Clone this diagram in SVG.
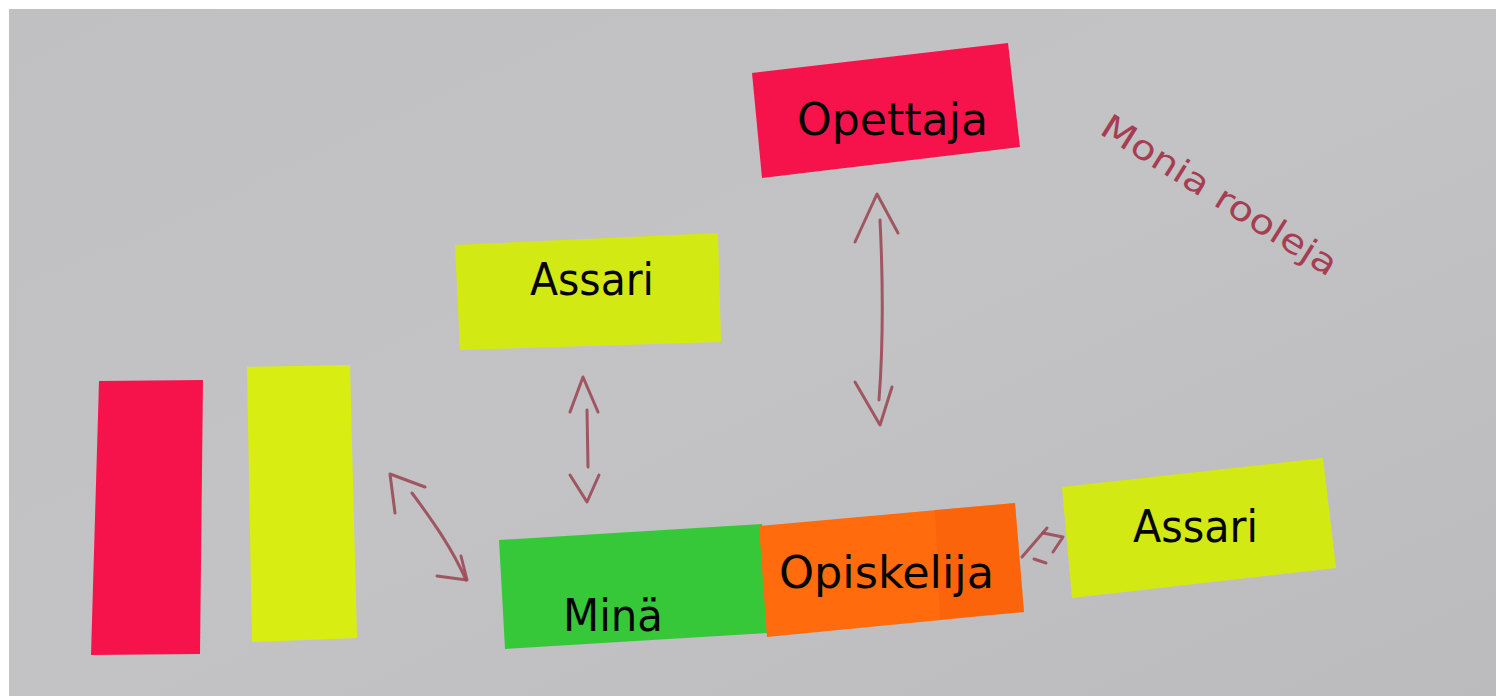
<svg xmlns="http://www.w3.org/2000/svg" width="1496" height="696" viewBox="0 0 1496 696">
<defs>
<linearGradient id="paper" x1="0" y1="0" x2="1" y2="1">
<stop offset="0" stop-color="#c0c0c2"/>
<stop offset="0.5" stop-color="#c3c3c5"/>
<stop offset="1" stop-color="#bbbbbd"/>
</linearGradient>
<style>
.lbl{font-family:"DejaVu Sans","Liberation Sans",sans-serif;font-size:45px;fill:#050505}
.pen{fill:none;stroke:#9c4a56;stroke-width:3;stroke-linecap:round;stroke-linejoin:round;opacity:0.9}
.pink{fill:#f6134c}
.yellow{fill:#d3e914}
.hand{font-family:"DejaVu Sans","Liberation Sans",sans-serif;font-size:34px;fill:#a53e52}
</style>
</defs>
<rect x="0" y="0" width="1496" height="696" fill="#ffffff"/>
<rect x="9" y="9" width="1487" height="687" fill="url(#paper)"/>

<g id="connectors">
<!-- Opettaja <-> Opiskelija -->
<path class="pen" d="M880,220 C883,280 883,347 879,400"/>
<path class="pen" d="M855,242 L877,194 L898,233"/>
<path class="pen" d="M855,382 L880,425 L892,387"/>
<!-- Assari (top) <-> Minä -->
<path class="pen" d="M587,410 L588,467"/>
<path class="pen" d="M570,412 L583,377 L598,412"/>
<path class="pen" d="M570,475 L587,502 L599,475"/>
<!-- left notes <-> Minä -->
<path class="pen" d="M412,493 C432,520 452,548 466,580"/>
<path class="pen" d="M395,513 L390,474 L425,487"/>
<path class="pen" d="M437,576 L467,580 L461,556"/>
<!-- Opiskelija <-> Assari (right) -->
<path class="pen" d="M1022,557 L1047,528"/>
<path class="pen" d="M1043,533 L1063,537 L1053,552"/>
<path class="pen" d="M1034,559 L1046,563"/>
</g>

<g id="note-left-red">
<polygon class="pink" points="99,381 203,380 200,654 91,655"/>
</g>
<g id="note-left-yellow">
<polygon fill="#d8ee12" points="247,367 350,365 357,638 252,642"/>
</g>

<g id="node-opettaja">
<polygon class="pink" points="752,73 1008,43 1020,147 762,178"/>
<text class="lbl" x="797" y="135" textLength="191" lengthAdjust="spacingAndGlyphs">Opettaja</text>
</g>

<g id="node-assari-top">
<polygon class="yellow" points="455,245 718,233 721,342 460,350"/>
<text class="lbl" x="530" y="295" textLength="124" lengthAdjust="spacingAndGlyphs">Assari</text>
</g>

<g id="node-mina">
<polygon fill="#37c83a" points="499,540 762,524 768,633 505,649"/>
<text class="lbl" x="563" y="631" textLength="100" lengthAdjust="spacingAndGlyphs">Minä</text>
</g>

<g id="node-opiskelija">
<polygon fill="#ff6b0d" points="759,526 1015,503 1024,612 767,637"/>
<polygon fill="#f45a08" points="935,510 1015,503 1024,612 940,619" opacity="0.4"/>
<text class="lbl" x="779" y="588" textLength="215" lengthAdjust="spacingAndGlyphs">Opiskelija</text>
</g>

<g id="node-assari-right">
<polygon class="yellow" points="1062,487 1323,458 1336,568 1072,598"/>
<text class="lbl" x="1133" y="542" textLength="125" lengthAdjust="spacingAndGlyphs">Assari</text>
</g>

<g id="note-handwriting">
<text class="hand" x="1098" y="133" transform="rotate(32 1098 133)" textLength="272" lengthAdjust="spacingAndGlyphs">Monia rooleja</text>
</g>
</svg>
